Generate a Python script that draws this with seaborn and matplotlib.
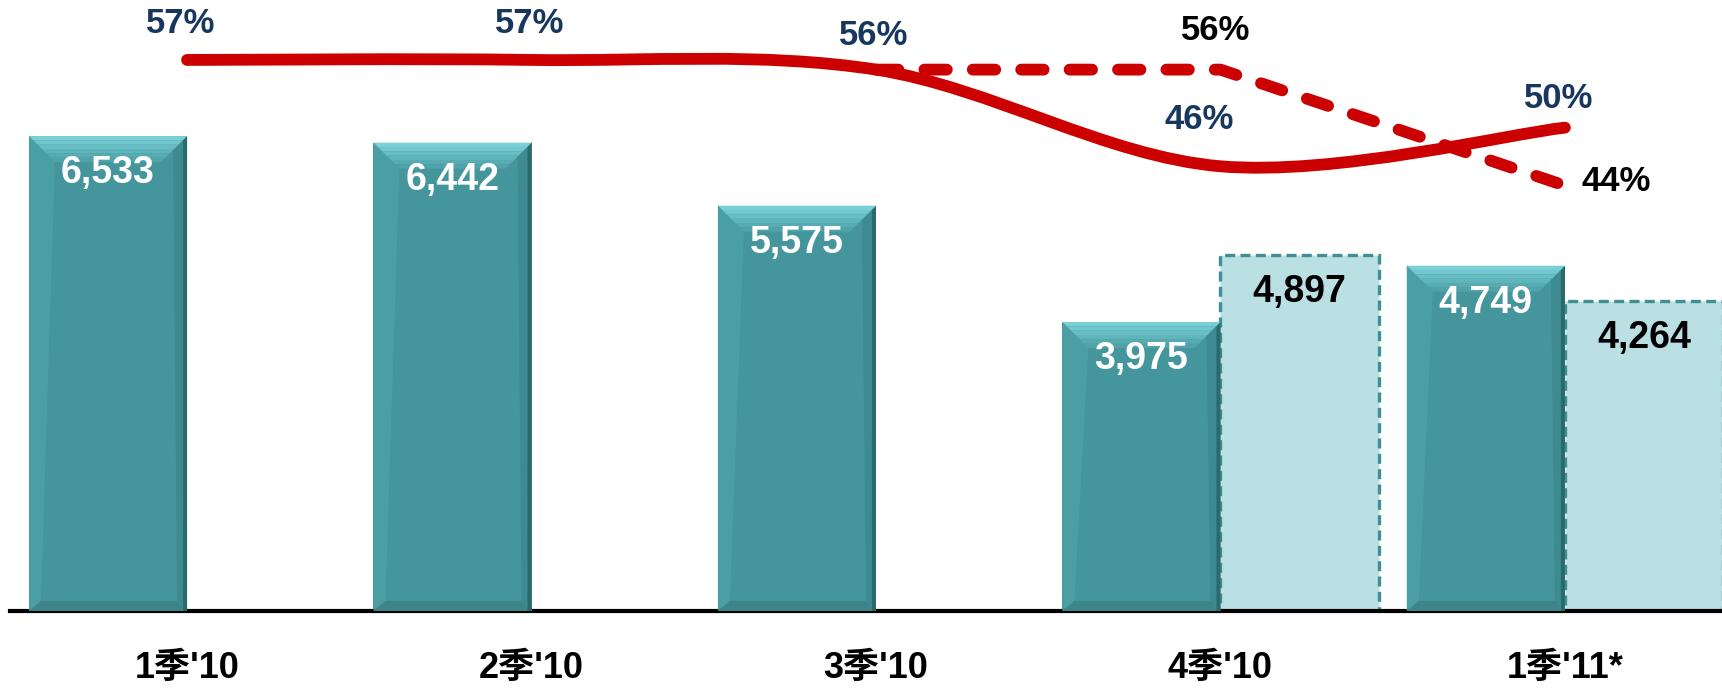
import numpy as np
import pandas as pd
import matplotlib
matplotlib.use("Agg")
import matplotlib.pyplot as plt
import seaborn as sns
from matplotlib.path import Path
from matplotlib.patches import PathPatch, Polygon
from matplotlib.colors import to_rgb

# data
quarters = ["1季'10", "2季'10", "3季'10", "4季'10", "1季'11*"]
reported = [6533, 6442, 5575, 3975, 4749]
adjusted = [np.nan, np.nan, np.nan, 4897, 4264]
ratio_reported = [57, 57, 56, 46, 50]
ratio_adjusted = [np.nan, np.nan, 56, 56, 44]

TEAL = "#45969c"
LIGHT = "#bbe0e3"
EDGE = "#3f9096"
RED = "#cc0000"
NAVY = "#17375e"

sns.set_theme(style="white")
plt.rcParams["font.family"] = ["Liberation Sans", "Noto Sans CJK SC", "DejaVu Sans"]

W, H = 1722, 689
fig = plt.figure(figsize=(W / 100, H / 100), dpi=100)
ax_w, ax_h = 1712, 611
ax = fig.add_axes([10 / W, 78 / H, ax_w / W, ax_h / H])

df = pd.DataFrame({
    "quarter": quarters * 2,
    "series": ["reported"] * len(quarters) + ["adjusted"] * len(quarters),
    "value": reported + adjusted,
})
sns.barplot(data=df, x="quarter", y="value", hue="series",
            hue_order=["reported", "adjusted"], palette=[TEAL, LIGHT],
            width=0.918, dodge=True, saturation=1, legend=False, ax=ax)

ax.set_xlim(-0.514, 4.456)
ax.set_ylim(0, 8404)
px_x = (4.456 + 0.514) / ax_w
px_y = 8404 / ax_h


def mix(c1, c2, t):
    a, b = np.array(to_rgb(c1)), np.array(to_rgb(c2))
    return tuple(a + (b - a) * t)


# bevel look on the main bars
for bar in ax.containers[0]:
    x, w, h = bar.get_x(), bar.get_width(), bar.get_height()
    if not np.isfinite(h) or h <= 0:
        continue
    bar.set_edgecolor("none")
    d = 26
    # left and right side bevels
    ax.add_patch(Polygon([(x, 0), (x, h), (x + d * px_x, h - d * px_y), (x + 12 * px_x, 10 * px_y)],
                         closed=True, color="#4b9ea4", lw=0, zorder=3))
    ax.add_patch(Polygon([(x + w, 0), (x + w, h), (x + w - 14 * px_x, h - 14 * px_y), (x + w - 10 * px_x, 10 * px_y)],
                         closed=True, color="#3d8a90", lw=0, zorder=3))
    ax.add_patch(Polygon([(x + w, 0), (x + w, h), (x + w - 4 * px_x, h - 4 * px_y), (x + w - 4 * px_x, 0)],
                         closed=True, color="#2a6a6f", lw=0, zorder=4))
    # bottom band
    ax.add_patch(Polygon([(x, 0), (x + w, 0), (x + w - 10 * px_x, 10 * px_y), (x + 12 * px_x, 10 * px_y)],
                         closed=True, color="#3e858b", lw=0, zorder=3))
    # top bevel as a few graded bands
    n = 6
    for k in range(n):
        t0, t1 = k / n * d, (k + 1) / n * d
        ax.add_patch(Polygon([(x + t0 * px_x, h - t0 * px_y), (x + w - t0 * px_x, h - t0 * px_y),
                              (x + w - t1 * px_x, h - t1 * px_y), (x + t1 * px_x, h - t1 * px_y)],
                             closed=True, color=mix("#79d0d6", "#4fa3a9", k / (n - 1)), lw=0, zorder=4))
    ax.annotate(f"{h:,.0f}", xy=(x + w / 2, h), xytext=(0, -37), textcoords="offset pixels",
                ha="center", va="center", color="white", fontsize=27, fontweight="bold", zorder=6)

for bar in ax.containers[1]:
    x, w, h = bar.get_x(), bar.get_width(), bar.get_height()
    if not np.isfinite(h) or h <= 0:
        continue
    bar.set_edgecolor(EDGE)
    bar.set_linewidth(2.4)
    bar.set_linestyle((0, (3, 1.6)))
    ax.annotate(f"{h:,.0f}", xy=(x + w / 2, h), xytext=(0, -37), textcoords="offset pixels",
                ha="center", va="center", color="black", fontsize=27, fontweight="bold", zorder=6)

for side in ["top", "right", "left"]:
    ax.spines[side].set_visible(False)
ax.spines["bottom"].set_color("black")
ax.spines["bottom"].set_linewidth(3)
ax.set_yticks([])
ax.set_xlabel("")
ax.set_ylabel("")
ax.set_xticks(range(len(quarters)))
ax.set_xticklabels(quarters, fontsize=26, fontweight="bold", color="black")
ax.tick_params(axis="x", length=0, pad=29)

# ratio lines
ax2 = ax.twinx()
ax2.set_ylim(0, 63.2)
xs = np.arange(len(quarters))

# smooth solid line (Catmull-Rom style bezier through the points)
pts = np.column_stack([xs, ratio_reported]).astype(float)
ext = np.vstack([pts[0], pts, pts[-1]])
verts, codes = [tuple(pts[0])], [Path.MOVETO]
for i in range(len(pts) - 1):
    p0, p1, p2, p3 = ext[i], ext[i + 1], ext[i + 2], ext[i + 3]
    c1 = p1 + (p2 - p0) / 6
    c2 = p2 - (p3 - p1) / 6
    verts += [tuple(c1), tuple(c2), tuple(p2)]
    codes += [Path.CURVE4] * 3
ax2.add_patch(PathPatch(Path(verts, codes), facecolor="none", edgecolor=RED,
                        lw=8.5, capstyle="round", joinstyle="round", zorder=5))

sns.lineplot(x=xs, y=ratio_adjusted, color=RED, lw=8.5, ax=ax2,
             linestyle=(0, (1.9, 2.2)), dash_capstyle="round", zorder=5)
ax2.lines[-1].set_dash_capstyle("round")

ax2.set_xlim(-0.514, 4.456)
ax2.set_yticks([])
ax2.set_ylabel("")
for side in ["top", "right", "left", "bottom"]:
    ax2.spines[side].set_visible(False)

# percentage labels: (x, y, dx px, dy px, colour)
pct_labels = [
    (0, ratio_reported[0], -6, 36, NAVY),
    (1, ratio_reported[1], -2, 36, NAVY),
    (2, ratio_reported[2], -2, 34, NAVY),
    (3, ratio_adjusted[3], -5, 39, "black"),
    (3, ratio_reported[3], -21, 47, NAVY),
    (4, ratio_reported[4], -6, 29, NAVY),
    (4, ratio_adjusted[4], 51, 4, "black"),
]
for x, y, dx, dy, c in pct_labels:
    ax2.annotate(f"{y:.0f}%", xy=(x, y), xytext=(dx, dy), textcoords="offset pixels",
                 ha="center", va="center", color=c, fontsize=25, fontweight="bold", zorder=7)

fig.savefig("out.png", dpi=100)
